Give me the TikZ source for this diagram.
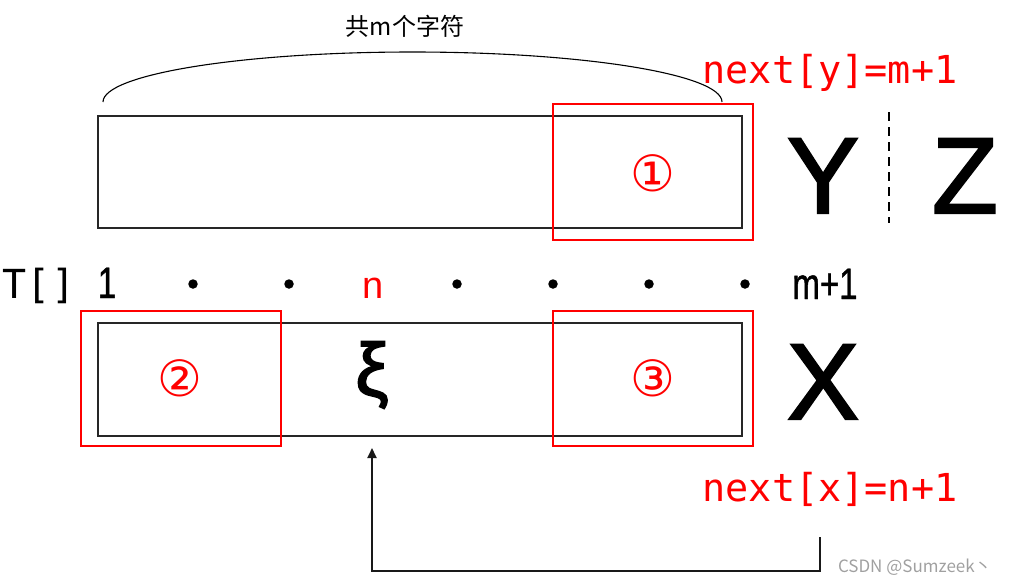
\documentclass[tikz,border=0pt]{standalone}
\usepackage{fontspec}
\setmainfont{Liberation Sans}
\newfontfamily\monofnt{DejaVu Sans Mono}
\newfontfamily\narrowfnt[FakeStretch=0.75,FakeBold=1]{Liberation Sans}
\newfontfamily\bigfnt[FakeBold=2]{Liberation Sans}
\newfontfamily\cjk{Noto Sans CJK SC}
\newfontfamily\dejavu{DejaVu Sans}
\usetikzlibrary{arrows.meta}
\definecolor{myred}{RGB}{255,0,0}
\definecolor{wmgray}{RGB}{160,160,160}
\tikzset{
  blackbox/.style={draw=black!85, line width=1.8pt, minimum width=644pt, inner sep=0pt, outer sep=0pt},
  redbox/.style={draw=myred, line width=1.6pt, minimum width=200pt, minimum height=136pt, inner sep=0pt, outer sep=0pt},
  lbl/.style={inner sep=0pt, outer sep=0pt},
  redmono/.style={lbl, text=myred, font=\monofnt\fontsize{38.5}{40}\selectfont, anchor=base},
  bigletter/.style={lbl, font=\bigfnt\fontsize{108}{110}\selectfont, anchor=base},
  rowtxt/.style={lbl, anchor=base},
  dotnode/.style={circle, fill=black, minimum size=9.5pt, inner sep=0pt},
  circnum/.style={lbl, text=myred, font=\dejavu\fontsize{50}{52}\selectfont},
  conn/.style={line width=1.8pt, draw=black!90},
}
\begin{document}
\begin{tikzpicture}[x=1pt,y=-1pt]
\useasboundingbox (0,0) rectangle (1017,582);
% top label and arc
\node[lbl, font=\cjk\fontsize{24}{26}\selectfont] (total) at (405,26) {共m个字符};
\coordinate (arcL) at (103,102);
\draw[line width=1.1pt] (arcL) arc[start angle=180, end angle=0, x radius=309.5pt, y radius=50pt];
% top row
\node[blackbox, minimum height=112pt] (topbox) at (420,172) {};
\node[redbox] (r1) at (653,172) {};
\node[circnum] (c1) at (653,173) {①};
\node[redmono] (ny) at (830,83) {next[y]=m+1};
\node[bigletter] (Y) at (823,213) {Y};
\node[bigletter] (Z) at (965,213) {Z};
\coordinate (d1) at (889,112);
\coordinate (d2) at (889,223);
\draw[line width=2.2pt, dash pattern=on 9pt off 6pt] (d1) -- (d2);
% index row
\node[rowtxt, font=\monofnt\fontsize{40}{42}\selectfont] (T) at (39,298) {T[]};
\node[rowtxt, font=\narrowfnt\fontsize{44}{46}\selectfont] (one) at (107,298) {1};
\node[dotnode] (p1) at (193,284) {};
\node[dotnode] (p2) at (289,284) {};
\node[rowtxt, text=myred, font=\fontsize{38}{40}\selectfont] (n) at (373,298) {n};
\node[dotnode] (p3) at (457,284) {};
\node[dotnode] (p4) at (553,284) {};
\node[dotnode] (p5) at (649,284) {};
\node[dotnode] (p6) at (745,284) {};
\node[rowtxt, font=\narrowfnt\fontsize{44}{46}\selectfont] (m1) at (825,299) {m+1};
% bottom row
\node[blackbox, minimum height=113pt] (botbox) at (420,379.5) {};
\node[redbox, minimum height=135pt] (r2) at (181,378.5) {};
\node[redbox, minimum height=135pt] (r3) at (653,378.5) {};
\node[circnum] (c2) at (180,378) {②};
\node[circnum] (c3) at (653,378) {③};
\node[lbl, font=\bigfnt\fontsize{75}{77}\selectfont] (xi) at (372,375) {ξ};
\node[bigletter] (X) at (823,419) {X};
\node[redmono] (nx) at (830,501) {next[x]=n+1};
% arrow
\coordinate (arrS) at (820,537);
\coordinate (arrC) at (820,571);
\coordinate (arrE) at (372,448);
\draw[conn, -{Triangle[width=9pt,length=10pt]}] (arrS) -- (arrC) -| (arrE);
% watermark
\node[lbl, anchor=base west, text=wmgray, font=\cjk\fontsize{17}{19}\selectfont] (wm) at (838,572) {CSDN @Sumzeek丶};
\end{tikzpicture}
\end{document}
